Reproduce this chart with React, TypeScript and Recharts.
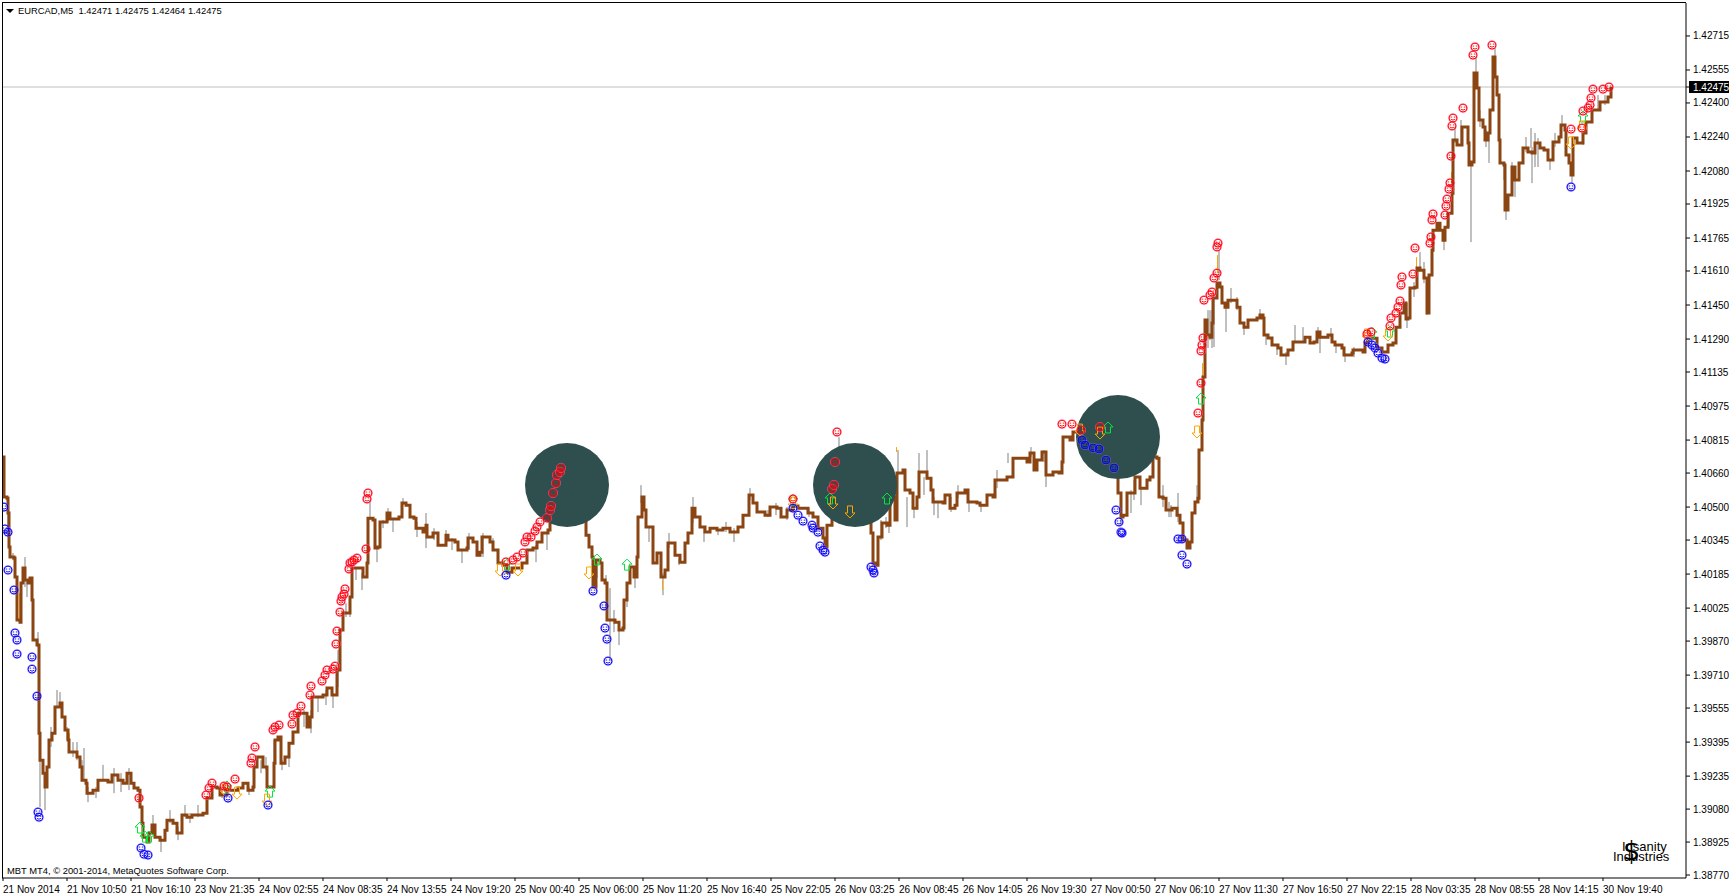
import React from "react";
import { ComposedChart, Line, Bar, Scatter, XAxis, YAxis, ReferenceLine } from "recharts";

const symbolTitle = "EURCAD,M5  1.42471 1.42475 1.42464 1.42475";
const copyright = "MBT MT4, © 2001-2014, MetaQuotes Software Corp.";
const lastPrice = 1.42475;

const timeTicks = [3,67,131,195,259,323,387,451,515,579,643,707,771,835,899,963,1027,1091,1155,1219,1283,1347,1411,1475,1539,1603];
const timeLabels = ["21 Nov 2014","21 Nov 10:50","21 Nov 16:10","23 Nov 21:35","24 Nov 02:55","24 Nov 08:35","24 Nov 13:55","24 Nov 19:20","25 Nov 00:40","25 Nov 06:00","25 Nov 11:20","25 Nov 16:40","25 Nov 22:05","26 Nov 03:25","26 Nov 08:45","26 Nov 14:05","26 Nov 19:30","27 Nov 00:50","27 Nov 06:10","27 Nov 11:30","27 Nov 16:50","27 Nov 22:15","28 Nov 03:35","28 Nov 08:55","28 Nov 14:15","30 Nov 19:40"];
const priceTicks = [1.42715,1.42555,1.42475,1.424,1.4224,1.4208,1.41925,1.41765,1.4161,1.4145,1.4129,1.41135,1.40975,1.40815,1.4066,1.405,1.40345,1.40185,1.40025,1.3987,1.3971,1.39555,1.39395,1.39235,1.3908,1.38925,1.3877];

// [bar, price] of the smoothed brown line
const closeA: [number, number][] = [[3,1.40735],[4,1.40547],[7,1.40542],[8,1.40472],[9,1.40312],[10,1.40265],[14,1.4026],[15,1.40171],[17,1.39969],[20,1.39959],[21,1.40143],[23,1.40213],[25,1.40157],[28,1.40143],[30,1.40166],[32,1.40063],[33,1.39875],[37,1.39851],[39,1.39437],[40,1.3931],[43,1.39249],[45,1.39184],[47,1.39278],[49,1.39405],[52,1.39437],[55,1.3956],[60,1.39579],[62,1.39513],[65,1.39452],[68,1.39405],[69,1.39348],[77,1.39325],[80,1.39278],[82,1.39216],[86,1.39202],[87,1.39155],[93,1.39169],[98,1.39216],[108,1.39207],[112,1.3924],[118,1.39216],[123,1.39202],[127,1.39249],[131,1.39202],[134,1.39179],[138,1.39169],[140,1.3909],[142,1.39014],[143,1.38948],[147,1.38925],[149,1.38967],[152,1.39005],[155,1.38948],[160,1.38934],[165,1.38981],[167,1.39028],[173,1.39014],[177,1.38967],[182,1.39052],[187,1.39042],[192,1.39052],[203,1.39061],[207,1.39132],[212,1.39184],[217,1.39179],[220,1.39146],[227,1.39169],[238,1.39179],[243,1.39202],[248,1.39169],[253,1.39184],[254,1.39278],[257,1.39325],[263,1.39278],[267,1.39184],[272,1.39184],[274,1.39296],[275,1.39405],[278,1.39419],[281,1.39296],[285,1.39325],[289,1.3939],[293,1.39442],[298,1.39531],[303,1.39531],[307,1.39466],[310,1.39513],[312,1.39607],[323,1.39616],[327,1.39649],[332,1.39616],[337,1.39734],[340,1.39922],[343,1.40002],[350,1.40077],[352,1.40213],[357,1.40213],[363,1.40171],[367,1.40237],[368,1.40448],[373,1.40439],[375,1.40307],[378,1.40312],[380,1.4043],[387,1.40472],[390,1.40444],[399,1.40453],[402,1.40519],[406,1.40509],[410,1.40453],[414,1.40448],[416,1.40401],[423,1.40383],[426,1.40415],[427,1.40359],[433,1.40378],[438,1.40321],[446,1.40368],[448,1.40345],[455,1.40336],[458,1.40298],[467,1.40307],[468,1.40354],[473,1.40336],[477,1.40274],[480,1.40288],[482,1.40359],[490,1.40336],[493,1.40298],[498,1.40237],[503,1.40227],[507,1.40194],[512,1.40213],[522,1.40237],[527,1.40298],[533,1.40307],[537,1.40336],[542,1.40378]];
const closeB: [number, number][] = [[548,1.40392],[550,1.40439],[555,1.40533],[560,1.40636],[565,1.40627],[568,1.4058],[573,1.40594],[578,1.40547],[580,1.40495],[584,1.40448],[586,1.40368],[589,1.40312],[592,1.40265],[593,1.40124],[596,1.40251],[600,1.40237],[602,1.40157],[605,1.40143],[607,1.39969],[615,1.39959],[619,1.39922],[623,1.39931],[624,1.40063],[627,1.40143],[630,1.40218],[634,1.40171],[637,1.40265],[638,1.40453],[642,1.40547],[644,1.40486],[646,1.40406],[651,1.40406],[653,1.40237],[657,1.40284],[659,1.40284],[661,1.40171],[665,1.40204],[668,1.40331],[672,1.40331],[675,1.40274],[680,1.40241],[685,1.40331],[688,1.40378],[692,1.40495],[695,1.40453],[700,1.40406],[705,1.40383],[710,1.40401],[717,1.40392],[723,1.40401],[730,1.40383],[738,1.40406],[743,1.40462],[749,1.40557],[753,1.40519],[757,1.40477],[765,1.40462],[770,1.405],[777,1.40495],[781,1.40453],[787,1.40486],[793,1.40505],[798,1.40495],[808,1.40472],[813,1.40453],[818,1.40401],[823,1.40354],[825,1.40312],[827,1.40415],[832,1.40453],[835,1.4058],[837,1.4073],[840,1.40674],[843,1.40589],[848,1.4058],[852,1.40589],[854,1.40462],[857,1.40462],[862,1.4058],[863,1.40641],[867,1.40566],[869,1.40453],[871,1.40378],[873,1.40237],[876,1.40227],[878,1.40359],[882,1.40425],[887,1.40415],[890,1.40547],[895,1.40439],[897,1.4066],[903,1.40674],[905,1.4058],[910,1.40566],[913,1.40495],[917,1.40547],[919,1.40665],[927,1.40636],[931,1.4058],[933,1.40524],[943,1.40519],[945,1.40557],[950,1.40495],[955,1.40509],[957,1.40566],[965,1.4058],[968,1.40524],[977,1.40519],[980,1.40509],[987,1.40557],[993,1.40547],[995,1.40627],[1007,1.40641],[1013,1.4073],[1027,1.40712],[1030,1.40754],[1034,1.40674],[1037,1.40721],[1042,1.40759],[1046,1.40651],[1053,1.40665],[1059,1.4066],[1062,1.40712],[1063,1.40829],[1070,1.40815],[1073,1.40853],[1082,1.40862],[1083,1.40815],[1092,1.40801],[1098,1.40801],[1102,1.40839],[1107,1.40848],[1108,1.40778],[1113,1.40735],[1116,1.40674],[1118,1.40566],[1121,1.40453],[1123,1.40462],[1127,1.40566],[1135,1.40641],[1140,1.40589],[1147,1.40627],[1150,1.40641],[1153,1.40735],[1157,1.4073],[1159,1.40547],[1163,1.40542],[1166,1.40486],[1172,1.40495],[1177,1.40462],[1180,1.40425],[1183,1.40345],[1187,1.40307],[1190,1.40336],[1192,1.40472],[1195,1.40524],[1198,1.40542]];
const closeC: [number, number][] = [[1199,1.40768],[1202,1.40909],[1203,1.41111],[1205,1.41379],[1207,1.41309],[1210,1.41299],[1212,1.41365],[1213,1.41483],[1217,1.41553],[1220,1.41535],[1222,1.41459],[1225,1.4144],[1228,1.41473],[1237,1.4144],[1240,1.41365],[1244,1.41346],[1248,1.41379],[1257,1.41389],[1260,1.41403],[1263,1.41389],[1264,1.41309],[1268,1.41295],[1272,1.41262],[1278,1.41248],[1281,1.41215],[1285,1.41215],[1288,1.41238],[1293,1.41276],[1303,1.41276],[1305,1.41299],[1310,1.41271],[1314,1.41276],[1317,1.41323],[1320,1.41299],[1328,1.41309],[1332,1.41276],[1335,1.41262],[1342,1.41248],[1344,1.41215],[1352,1.41224],[1353,1.41238],[1363,1.41229],[1365,1.41271],[1368,1.41295],[1373,1.41294],[1377,1.41248],[1382,1.41229],[1387,1.41229],[1388,1.41262],[1393,1.41271],[1396,1.41346],[1400,1.41412],[1404,1.41459],[1406,1.41384],[1408,1.41389],[1410,1.4153],[1415,1.41534],[1417,1.41624],[1420,1.41614],[1424,1.41577],[1427,1.41412],[1429,1.41591],[1432,1.41708],[1433,1.41802],[1437,1.41835],[1440,1.41802],[1443,1.41755],[1445,1.41816],[1448,1.41882],[1452,1.41976],[1453,1.42226],[1457,1.42202],[1462,1.42287],[1466,1.42287],[1468,1.42212],[1469,1.42108],[1472,1.42122],[1474,1.42541],[1477,1.4247],[1479,1.4232],[1483,1.42287],[1485,1.42226],[1488,1.42259],[1490,1.42367],[1493,1.42616],[1495,1.42522],[1497,1.42437],[1499,1.42226],[1500,1.42118],[1504,1.42108],[1505,1.41897],[1508,1.41967],[1512,1.42099],[1515,1.42038],[1519,1.42118],[1523,1.42188],[1528,1.42169],[1532,1.42165],[1535,1.42212],[1540,1.42188],[1544,1.42179],[1548,1.42132],[1553,1.42216],[1559,1.4224],[1561,1.42296],[1565,1.42273],[1566,1.42155],[1569,1.42118],[1571,1.42061],[1573,1.42235],[1577,1.42212],[1583,1.42259],[1586,1.4231],[1592,1.42367],[1600,1.42404],[1608,1.42428],[1611,1.42475]];

// [bar, high, low] of the grey wicks
const wicks: [number, number, number][] = [[7,1.405,1.40392],[12,1.40284,1.4025],[24,1.40265,1.40124],[26,1.40157,1.40077],[37,1.39912,1.39841],[39,1.39405,1.3909],[44,1.39249,1.39075],[50,1.39466,1.39372],[56,1.3964,1.3956],[59,1.3963,1.3956],[66,1.39466,1.39405],[72,1.39395,1.39325],[76,1.39395,1.3931],[81,1.3931,1.3923],[83,1.39367,1.39216],[87,1.39184,1.39113],[95,1.39184,1.39132],[102,1.39288,1.39216],[113,1.39273,1.39155],[120,1.39249,1.3916],[128,1.39273,1.39169],[152,1.39052,1.38981],[160,1.38948,1.38878],[169,1.39075,1.39014],[177,1.38995,1.38934],[184,1.39099,1.39042],[189,1.39061,1.39014],[197,1.39099,1.39042],[221,1.39169,1.39132],[248,1.39184,1.39146],[260,1.3931,1.39249],[265,1.39325,1.39263],[273,1.39405,1.39263],[281,1.3931,1.39263],[288,1.39357,1.39278],[303,1.39546,1.39466],[310,1.39546,1.39437],[317,1.39607,1.39536],[325,1.3964,1.39569],[332,1.39625,1.39555],[337,1.39828,1.39654],[345,1.40048,1.39983],[349,1.40072,1.39983],[355,1.40218,1.40157],[361,1.4019,1.4011],[369,1.40533,1.40439],[376,1.40312,1.40241],[382,1.40439,1.40401],[387,1.40495,1.4043],[392,1.40439,1.40383],[402,1.40542,1.40509],[416,1.4043,1.40359],[425,1.40472,1.40307],[433,1.40401,1.40345],[445,1.40392,1.40345],[451,1.40354,1.40298],[461,1.40298,1.40237],[468,1.40378,1.40298],[482,1.40378,1.40265],[492,1.40354,1.40307],[535,1.40321,1.40241],[546,1.40378,1.40298],[565,1.40665,1.40618],[573,1.4065,1.4057],[582,1.40472,1.40425],[596,1.40237,1.40166],[605,1.4018,1.40133],[609,1.40119,1.3978],[613,1.40016,1.39912],[618,1.39931,1.39851],[626,1.40143,1.4003],[634,1.4018,1.40119],[640,1.40603,1.40519],[648,1.40406,1.40336],[662,1.4019,1.40086],[668,1.40378,1.40307],[678,1.4026,1.40227],[692,1.40547,1.40425],[703,1.40406,1.40336],[717,1.40392,1.40368],[725,1.4043,1.40383],[733,1.40401,1.40336],[749,1.40589,1.40533],[767,1.40486,1.40453],[775,1.40519,1.40462],[786,1.405,1.40439],[808,1.40495,1.40453],[817,1.40453,1.40383],[833,1.40533,1.40453],[838,1.40829,1.40721],[844,1.4058,1.40453],[846,1.4058,1.40472],[848,1.40688,1.4058],[853,1.4058,1.40425],[856,1.40472,1.40425],[864,1.40688,1.40594],[868,1.40533,1.40425],[880,1.40439,1.40345],[885,1.40453,1.40401],[888,1.40425,1.40378],[889,1.40641,1.40547],[897,1.40768,1.40651],[906,1.40547,1.40406],[913,1.405,1.40448],[918,1.40754,1.4066],[923,1.40641,1.40557],[926,1.40768,1.40641],[933,1.40547,1.40462],[937,1.40519,1.40448],[950,1.40547,1.40477],[957,1.40603,1.40542],[968,1.40533,1.40477],[980,1.40509,1.40477],[996,1.40674,1.40589],[1007,1.40754,1.40707],[1030,1.40782,1.40735],[1043,1.40768,1.40712],[1045,1.40651,1.40594],[1108,1.40768,1.40688],[1120,1.40453,1.40415],[1130,1.4058,1.40472],[1133,1.40627,1.40533],[1140,1.40589,1.40509],[1155,1.40768,1.4073],[1162,1.40603,1.405],[1168,1.40524,1.40453],[1170,1.40509,1.40453],[1177,1.40566,1.4043],[1196,1.40603,1.40519],[1207,1.41426,1.41248],[1209,1.41426,1.41285],[1211,1.41426,1.41248],[1213,1.41483,1.41252],[1218,1.41709,1.41567],[1225,1.4144,1.41323],[1230,1.4153,1.41459],[1236,1.41487,1.41426],[1243,1.41346,1.41309],[1259,1.41431,1.41393],[1265,1.41309,1.41262],[1276,1.41262,1.41215],[1285,1.41229,1.41168],[1294,1.41356,1.41271],[1302,1.41346,1.41276],[1317,1.41346,1.41299],[1319,1.41309,1.41224],[1330,1.41342,1.41299],[1335,1.41262,1.41224],[1344,1.41224,1.41182],[1353,1.41252,1.41205],[1406,1.41459,1.41342],[1413,1.41558,1.41488],[1419,1.41699,1.41614],[1423,1.41652,1.41553],[1426,1.41506,1.41403],[1443,1.41765,1.41708],[1448,1.41864,1.41817],[1454,1.42287,1.42212],[1460,1.4232,1.42212],[1470,1.42118,1.41746],[1475,1.42616,1.42475],[1479,1.42367,1.42287],[1485,1.42273,1.42193],[1488,1.42259,1.42118],[1494,1.42658,1.42616],[1503,1.42118,1.42038],[1505,1.41953,1.4185],[1511,1.42122,1.42005],[1514,1.42038,1.41958],[1525,1.4224,1.42169],[1530,1.42282,1.42188],[1531,1.42193,1.42023],[1534,1.42259,1.42099],[1537,1.42235,1.42099],[1549,1.42132,1.42085],[1554,1.42259,1.42193],[1561,1.42343,1.42287],[1571,1.42071,1.42023],[1582,1.42259,1.42202],[1597,1.42437,1.42367],[1604,1.42437,1.4239]];

// [bar, high, low] of the orange body slivers
const bodies: [number, number, number][] = [[16,1.40096,1.39983],[19,1.40096,1.39969],[32,1.39969,1.39875],[69,1.39437,1.39343],[638,1.40439,1.40312],[662,1.40157,1.4011],[896,1.40782,1.40759],[1202,1.41177,1.41111],[1217,1.41685,1.416],[1416,1.41675,1.41628],[1451,1.42075,1.42023],[1474,1.42531,1.42273]];

// [bar, price] of the three dark discs
const discs: [number, number][] = [[567,1.40604],[855,1.40604],[1118,1.40829]];

// [bar, price] of the smiley and arrow signals
const redSignals: [number, number][] = [[139,1.39132],[206,1.39146],[209,1.39179],[212,1.39202],[224,1.39188],[227,1.39184],[235,1.39221],[251,1.39296],[252,1.3932],[255,1.39372],[273,1.39452],[275,1.39466],[279,1.39475],[292,1.3948],[293,1.39522],[297,1.39531],[301,1.39564],[310,1.39616],[311,1.39658],[322,1.39682],[325,1.3971],[327,1.39734],[333,1.39738],[335,1.39752],[336,1.39856],[337,1.39917],[340,1.40006],[341,1.40058],[342,1.40077],[344,1.40091],[345,1.40115],[349,1.40209],[350,1.40237],[352,1.40242],[354,1.40251],[357,1.4026],[366,1.40303],[367,1.40538],[368,1.40566],[506,1.40242],[513,1.40251],[517,1.40265],[523,1.40284],[525,1.40336],[527,1.40359],[531,1.40359],[535,1.40387],[537,1.40406],[540,1.4043],[547,1.40448],[550,1.40486],[551,1.40505],[553,1.40566],[556,1.40613],[557,1.40651],[560,1.40665],[561,1.40684],[793,1.40538],[832,1.40585],[834,1.40604],[835,1.40712],[837,1.40853],[1062,1.4089],[1072,1.4089],[1081,1.40862],[1100,1.40876],[1198,1.40942],[1201,1.41083],[1201,1.41234],[1202,1.41262],[1203,1.41295],[1204,1.41473],[1210,1.41497],[1212,1.41511],[1214,1.41577],[1217,1.416],[1217,1.41723],[1218,1.41741],[1367,1.41314],[1371,1.41323],[1390,1.41351],[1391,1.41389],[1396,1.41412],[1398,1.4144],[1400,1.41469],[1401,1.41544],[1402,1.41582],[1413,1.41596],[1415,1.41718],[1430,1.41741],[1431,1.4177],[1432,1.4185],[1433,1.41878],[1445,1.41873],[1446,1.41915],[1447,1.41948],[1449,1.41995],[1450,1.42024],[1451,1.4215],[1452,1.42292],[1453,1.42329],[1463,1.42376],[1473,1.42625],[1475,1.42663],[1492,1.42672],[1571,1.42277],[1582,1.42282],[1583,1.42362],[1588,1.42376],[1590,1.4239],[1591,1.42423],[1593,1.42465],[1603,1.42465],[1609,1.42475]];
const blueSignals: [number, number][] = [[4,1.405],[5,1.40397],[8,1.40382],[8,1.40204],[14,1.4011],[15,1.39908],[17,1.39875],[17,1.39809],[32,1.39795],[32,1.39738],[37,1.39611],[38,1.39066],[39,1.39042],[141,1.38897],[144,1.38868],[148,1.38864],[228,1.39132],[268,1.39099],[506,1.4018],[593,1.40105],[604,1.40035],[605,1.39931],[607,1.39879],[608,1.39776],[793,1.40495],[798,1.40462],[803,1.40434],[812,1.40415],[813,1.40401],[818,1.40382],[820,1.40317],[823,1.40298],[825,1.40288],[871,1.40218],[873,1.40204],[874,1.4019],[1082,1.40815],[1085,1.40792],[1093,1.40778],[1099,1.40773],[1106,1.40721],[1114,1.40684],[1116,1.40486],[1119,1.4043],[1121,1.40382],[1122,1.40378],[1178,1.4035],[1182,1.4035],[1182,1.40274],[1187,1.40232],[1368,1.41276],[1372,1.41262],[1375,1.41248],[1378,1.41224],[1382,1.41201],[1385,1.41196],[1571,1.42005]];
const upArrows: [number, number][] = [[140,1.38991],[145,1.38948],[149,1.38948],[227,1.39184],[270,1.3916],[507,1.40227],[597,1.40251],[627,1.40227],[793,1.40533],[830,1.40538],[887,1.40538],[1108,1.40872],[1201,1.41008],[1372,1.41318],[1390,1.41323],[1583,1.42334]];
const downArrows: [number, number][] = [[225,1.3917],[237,1.39155],[267,1.39122],[500,1.40204],[518,1.40204],[589,1.4019],[793,1.40519],[833,1.40519],[850,1.40477],[1080,1.40862],[1100,1.40848],[1197,1.40853],[1367,1.41309],[1388,1.41309],[1571,1.42212],[1582,1.42287]];

type Row = { x: number; close?: number; wick?: [number, number]; body?: boolean };
const rows: Row[] = [
  ...[...closeA, ...closeB, ...closeC].map(([x, close]) => ({ x, close })),
  ...wicks.map(([x, high, low]) => ({ x, wick: [low, high] as [number, number] })),
  ...bodies.map(([x, high, low]) => ({ x, wick: [low, high] as [number, number], body: true })),
].sort((a, b) => a.x - b.x);

const toPoints = (list: [number, number][]) => list.map(([x, price]) => ({ x, price }));

const AXIS_FONT = "'Liberation Sans', sans-serif";

const Smiley = ({ cx, cy, color, halo }: any) => (
  <g transform={`translate(${cx},${cy})`} fill="none">
    <circle r={4.6} stroke={halo} strokeWidth={0.8} strokeOpacity={0.7} />
    <circle r={3.9} stroke={color} strokeWidth={1} />
    <path d="M-2.4,-1 H-0.8 M0.8,-1 H2.4 M-2.2,1.1 Q0,3 2.2,1.1" stroke={color} strokeWidth={0.9} />
  </g>
);
const UpArrow = ({ cx, cy }: any) => (
  <path transform={`translate(${cx},${cy})`} d="M0,-6 L5,-1 H2.5 V5 H-2.5 V-1 H-5 Z" fill="none" stroke="#00e63c" strokeWidth={1} />
);
const DownArrow = ({ cx, cy }: any) => (
  <path transform={`translate(${cx},${cy})`} d="M-2.5,-6 H2.5 V1 H5 L0,6 L-5,1 H-2.5 Z" fill="none" stroke="#ffa500" strokeWidth={1} />
);
const Disc = ({ cx, cy }: any) => <circle cx={cx} cy={cy} r={42} fill="#2f4f4f" />;

const WickShape = (p: any) => {
  const { x, y, width, height, payload } = p;
  if (!payload.wick || !Number.isFinite(y) || !Number.isFinite(height)) return null;
  const w = payload.body ? 1 : 2;
  return <rect x={Math.round(x + width / 2)} y={y} width={w} height={height} fill={payload.body ? "#ffa500" : "#c0c0c0"} />;
};

const TimeTick = ({ x, y, index }: any) => (
  <text x={x} y={y + 10} textAnchor="start" fontFamily={AXIS_FONT} fontSize={10} fill="#000">
    {timeLabels[index]}
  </text>
);
const PriceTick = ({ x, y, payload }: any) => {
  const current = payload.value === lastPrice;
  return (
    <g>
      {current && <rect x={x - 3} y={y - 6} width={43} height={12} fill="#000" />}
      <text x={x + 1} y={y + 3.5} textAnchor="start" fontFamily={AXIS_FONT} fontSize={10} fill={current ? "#fff" : "#000"}>
        {payload.value.toFixed(5)}
      </text>
    </g>
  );
};

const textStyle: React.CSSProperties = { position: "absolute", fontFamily: AXIS_FONT, fontSize: 9.4, color: "#000", whiteSpace: "pre", lineHeight: "12px" };

export default function App() {
  return (
    <div style={{ position: "absolute", left: 0, top: 0, width: 1729, height: 896, background: "#fff", overflow: "hidden" }}>
      <ComposedChart width={1729} height={896} data={rows} margin={{ top: 3, right: 0, bottom: 0, left: 2 }}>
        <XAxis dataKey="x" type="number" scale="linear" domain={[2, 1686]} ticks={timeTicks} interval={0} height={18} tick={<TimeTick />} tickSize={3} stroke="#000" allowDataOverflow />
        <YAxis orientation="right" type="number" scale="linear" domain={[1.38756, 1.4287]} ticks={priceTicks} interval={0} width={43} tick={<PriceTick />} tickSize={4} stroke="#000" allowDataOverflow />
        <Scatter data={toPoints(discs)} dataKey="price" shape={<Disc />} isAnimationActive={false} />
        <ReferenceLine y={lastPrice} stroke="#c0c0c0" strokeWidth={1} />
        <Bar dataKey="wick" barSize={1} shape={WickShape} isAnimationActive={false} />
        <Line dataKey="close" type="stepAfter" connectNulls dot={false} stroke="#8b4513" strokeWidth={3} strokeLinejoin="miter" isAnimationActive={false} />
        <Scatter data={toPoints(upArrows)} dataKey="price" shape={<UpArrow />} isAnimationActive={false} />
        <Scatter data={toPoints(downArrows)} dataKey="price" shape={<DownArrow />} isAnimationActive={false} />
        <Scatter data={toPoints(redSignals)} dataKey="price" shape={<Smiley color="#ff0000" halo="#ff69b4" />} isAnimationActive={false} />
        <Scatter data={toPoints(blueSignals)} dataKey="price" shape={<Smiley color="#0000ff" halo="#9370db" />} isAnimationActive={false} />
      </ComposedChart>
      <div style={{ position: "absolute", left: 2, top: 2, width: 1684, height: 876, borderLeft: "1px solid #000", borderTop: "1px solid #000", boxSizing: "border-box", pointerEvents: "none" }} />
      <div style={{ position: "absolute", left: 6, top: 9, width: 0, height: 0, borderLeft: "4px solid transparent", borderRight: "4px solid transparent", borderTop: "4px solid #000" }} />
      <div style={{ ...textStyle, left: 18, top: 5 }}>{symbolTitle}</div>
      <div style={{ ...textStyle, left: 7, top: 865 }}>{copyright}</div>
      <div style={{ ...textStyle, left: 1623, top: 833, fontSize: 27, lineHeight: "36px", fontFamily: "'DejaVu Sans', sans-serif" }}>{"$"}</div>
      <div style={{ ...textStyle, left: 1622, top: 840, fontSize: 13, lineHeight: "14px" }}>{"Insanity"}</div>
      <div style={{ ...textStyle, left: 1613, top: 850, fontSize: 13, lineHeight: "14px" }}>{"Industries"}</div>
    </div>
  );
}
